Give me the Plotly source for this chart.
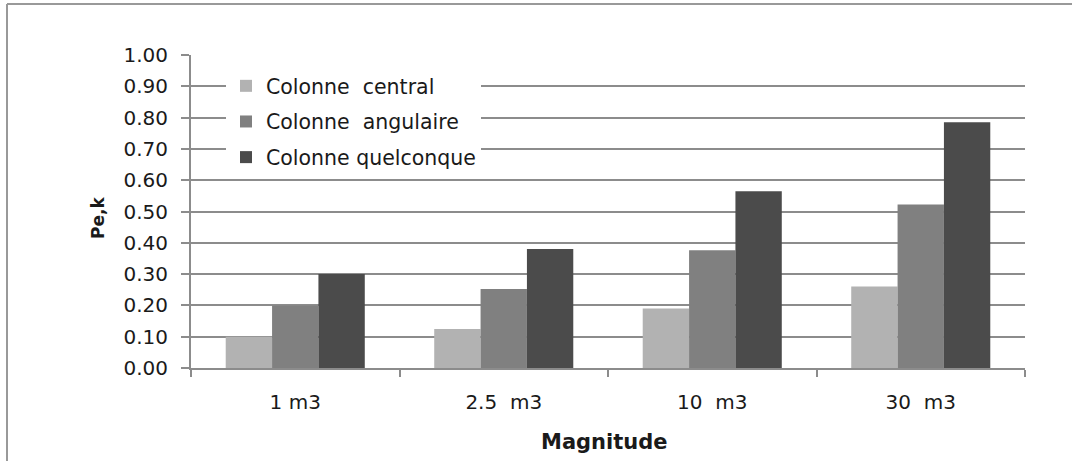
import plotly.graph_objects as go

categories = ["1 m3", "2.5\u00a0 m3", "10\u00a0 m3", "30\u00a0 m3"]
central = [0.10, 0.125, 0.19, 0.26]
angulaire = [0.20, 0.252, 0.376, 0.522]
quelconque = [0.30, 0.38, 0.565, 0.785]
series_names = ["Colonne\u00a0 central", "Colonne\u00a0 angulaire", "Colonne quelconque"]
series_colors = ["#b2b2b2", "#808080", "#4b4b4b"]
y_ticks = [i / 10 for i in range(11)]
y_tick_labels = [f"{v:.2f}" for v in y_ticks]

FONT = "DejaVu Sans"
GRID = "#8c8c8c"
TXT = "#1a1a1a"

fig = go.Figure()
for i, (name, vals, col) in enumerate(zip(series_names, [central, angulaire, quelconque], series_colors)):
    fig.add_trace(go.Bar(x=categories, y=vals, name=name, marker=dict(color=col, line=dict(width=0)),
                         legendgroup=f"g{i}"))

L, R, T, B = 191, 47, 55, 93
W, H = 1072, 461
pw, ph = W - L - R, H - T - B

def px(x):
    return (x - L) / pw

def py(y):
    return (H - B - y) / ph

fig.update_layout(
    width=W, height=H,
    margin=dict(l=L, r=R, t=T, b=B, pad=0),
    paper_bgcolor="white", plot_bgcolor="white",
    barmode="group", bargap=0.333, bargroupgap=0,
    font=dict(family=FONT, size=20, color=TXT),
    showlegend=True,
    legend=dict(x=px(226), y=py(66), xanchor="left", yanchor="top",
                bgcolor="white", borderwidth=0, tracegroupgap=6,
                traceorder="grouped", font=dict(family=FONT, size=20.5, color=TXT)),
    xaxis=dict(type="category", showline=True, linecolor=GRID, linewidth=2,
               ticks="outside", tickson="boundaries", ticklen=7, tickcolor=GRID, tickwidth=2,
               showgrid=False, tickfont=dict(family=FONT, size=20, color=TXT),
               ticklabelstandoff=15),
    yaxis=dict(range=[0, 1], tickvals=y_ticks, ticktext=y_tick_labels,
               showline=True, linecolor=GRID, linewidth=2,
               ticks="outside", ticklen=8, tickcolor=GRID, tickwidth=2,
               showgrid=True, gridcolor=GRID, gridwidth=2, zeroline=False,
               tickfont=dict(family=FONT, size=20, color=TXT),
               ticklabelstandoff=9),
    annotations=[
        dict(text="<b>Pe,k</b>", x=px(98), y=py(218), xref="paper", yref="paper",
             showarrow=False, textangle=-90, font=dict(family=FONT, size=17, color=TXT),
             xanchor="center", yanchor="middle"),
        dict(text="<b>Magnitude</b>", x=px(604), y=py(442), xref="paper", yref="paper",
             showarrow=False, font=dict(family=FONT, size=21, color=TXT),
             xanchor="center", yanchor="middle"),
    ],
    shapes=[
        dict(type="line", xref="paper", yref="paper", x0=px(7), x1=px(1080), y0=py(4), y1=py(4),
             line=dict(color="#999999", width=2)),
        dict(type="line", xref="paper", yref="paper", x0=px(7), x1=px(7), y0=py(4), y1=py(470),
             line=dict(color="#999999", width=2)),
    ],
)

fig.write_html(
    "out.html",
    config={"displayModeBar": False},
    post_script="document.body.style.margin='0';document.body.style.overflow='hidden';",
)
